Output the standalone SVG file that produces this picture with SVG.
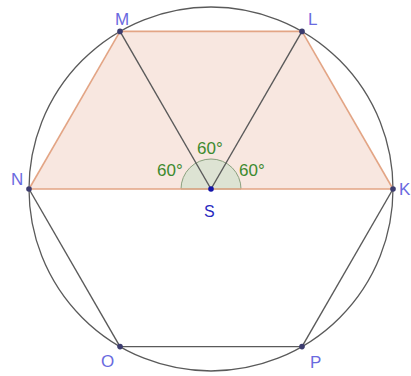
<svg xmlns="http://www.w3.org/2000/svg" width="411" height="376" viewBox="0 0 411 376">
<style>
.lbl{font-family:"Liberation Sans",Arial,sans-serif;font-size:17px;fill:#6a6ae0}
.ang{font-family:"Liberation Sans",Arial,sans-serif;font-size:17px;fill:#3d8a2e}
.seg{stroke:#5a5a5a;stroke-width:1.4;fill:none}
.org{stroke:#e3a585;stroke-width:1.6;fill:none}
.pt{fill:#3c3c6e}
</style>
<rect width="411" height="376" fill="#ffffff"/>
<g id="trapezoid">
<polygon points="29,189 120,31.4 302,31.4 393,189" fill="#f8e7e0" stroke="none"/>
</g>
<g id="circle">
<circle cx="211" cy="189" r="182" fill="none" stroke="#5a5a5a" stroke-width="1.3"/>
</g>
<g id="angles">
<path d="M211,189 L241,189 A30,30 0 0 0 181,189 Z" fill="#d6e2cf" fill-opacity="0.8" stroke="#8aa07e" stroke-width="1"/>
</g>
<g id="connectors">
<line class="org" x1="29" y1="189" x2="120" y2="31.4"/>
<line class="org" x1="120" y1="31.4" x2="302" y2="31.4"/>
<line class="org" x1="302" y1="31.4" x2="393" y2="189"/>
<line class="org" x1="29" y1="189" x2="393" y2="189"/>
<line class="seg" x1="120" y1="31.4" x2="211" y2="189"/>
<line class="seg" x1="302" y1="31.4" x2="211" y2="189"/>
<line class="seg" x1="29" y1="189" x2="120" y2="346.6"/>
<line class="seg" x1="120" y1="346.6" x2="302" y2="346.6"/>
<line class="seg" x1="302" y1="346.6" x2="393" y2="189"/>
</g>
<g id="angle-labels">
<text class="ang" x="157" y="176">60°</text>
<text class="ang" x="197" y="154">60°</text>
<text class="ang" x="239" y="176">60°</text>
</g>
<g id="M"><circle class="pt" cx="120" cy="31.4" r="2.8"/><text class="lbl" x="115" y="25">M</text></g>
<g id="L"><circle class="pt" cx="302" cy="31.4" r="2.8"/><text class="lbl" x="308" y="25">L</text></g>
<g id="N"><circle class="pt" cx="29" cy="189" r="2.8"/><text class="lbl" x="11" y="185">N</text></g>
<g id="K"><circle class="pt" cx="393" cy="189" r="2.8"/><text class="lbl" x="399" y="195">K</text></g>
<g id="O"><circle class="pt" cx="120" cy="346.6" r="2.8"/><text class="lbl" x="101" y="367">O</text></g>
<g id="P"><circle class="pt" cx="302" cy="346.6" r="2.8"/><text class="lbl" x="310" y="368">P</text></g>
<g id="S"><circle cx="211" cy="189" r="2.8" fill="#1414a8"/><text class="lbl" x="204" y="217" style="fill:#2a2ac0;font-size:16px">S</text></g>
</svg>
